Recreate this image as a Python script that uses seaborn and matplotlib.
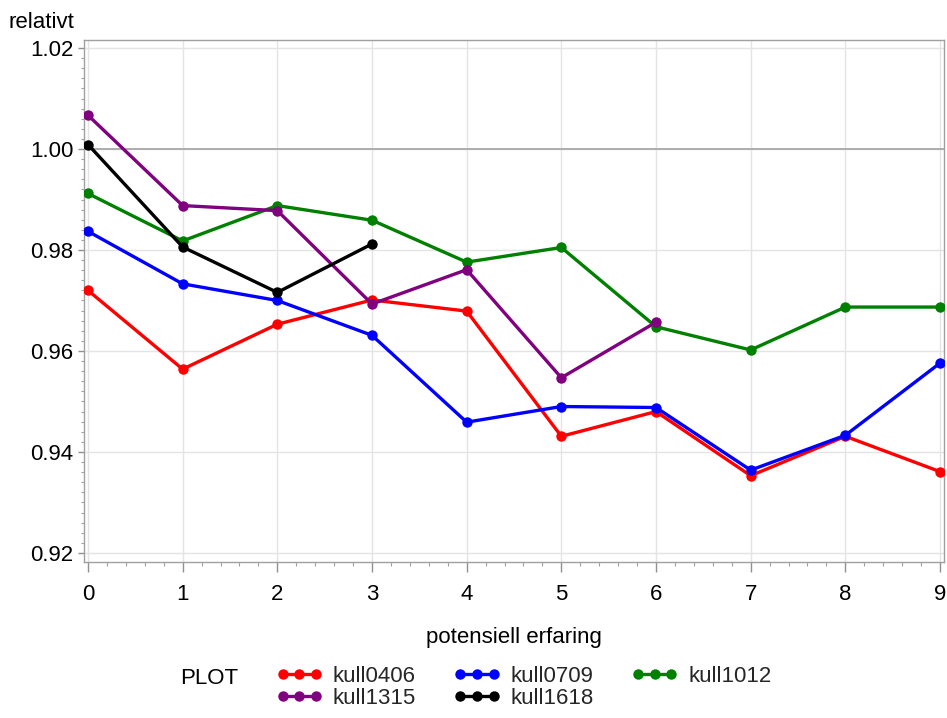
import matplotlib
matplotlib.use("Agg")
import matplotlib.pyplot as plt
from matplotlib.lines import Line2D
from matplotlib.ticker import MultipleLocator, FormatStrFormatter
import seaborn as sns
import pandas as pd

# Relative earnings by potential experience, one series per cohort
erfaring = [0, 1, 2, 3, 4, 5, 6, 7, 8, 9]
kull0406 = [0.9720, 0.9564, 0.9653, 0.9701, 0.9679, 0.9431, 0.9480, 0.9353, 0.9431, 0.9361]
kull0709 = [0.9837, 0.9733, 0.9700, 0.9631, 0.9459, 0.9490, 0.9488, 0.9364, 0.9433, 0.9576]
kull1012 = [0.9912, 0.9818, 0.9888, 0.9859, 0.9776, 0.9805, 0.9648, 0.9602, 0.9687, 0.9687]
kull1315 = [1.0067, 0.9888, 0.9878, 0.9693, 0.9761, 0.9547, 0.9657]
kull1618 = [1.0009, 0.9806, 0.9716, 0.9812]

series = {
    "kull0406": kull0406,
    "kull0709": kull0709,
    "kull1012": kull1012,
    "kull1315": kull1315,
    "kull1618": kull1618,
}
colors = {
    "kull0406": "#ff0000",
    "kull0709": "#0000ff",
    "kull1012": "#008000",
    "kull1315": "#800080",
    "kull1618": "#000000",
}

rows = []
for name, vals in series.items():
    for x, v in zip(erfaring, vals):
        rows.append({"erfaring": x, "relativt": v, "kull": name})
df = pd.DataFrame(rows)

sns.set_theme(style="white")
plt.rcParams["font.family"] = ["Liberation Sans", "DejaVu Sans"]

LW = 2.4
MS = 7.5

fig = plt.figure(figsize=(9.47, 7.18), dpi=100)
ax = fig.add_axes([84 / 947, 1 - 562 / 718, (944 - 84) / 947, (562 - 40) / 718])

# grid and reference line
ax.set_axisbelow(True)
ax.grid(True, which="major", color="#e4e4e4", linewidth=1.0)
ax.axhline(1.0, color="#a8a8a8", linewidth=1.3, zorder=1)

sns.lineplot(
    data=df, x="erfaring", y="relativt", hue="kull",
    hue_order=list(series.keys()), palette=colors,
    marker="o", markersize=MS, markeredgewidth=0,
    linewidth=LW, legend=False, ax=ax, zorder=3,
)

ax.set_xlim(-0.042, 9.042)
ax.set_ylim(0.9182, 1.0216)
ax.xaxis.set_major_locator(MultipleLocator(1))
ax.xaxis.set_minor_locator(MultipleLocator(0.2))
ax.yaxis.set_major_locator(MultipleLocator(0.02))
ax.yaxis.set_minor_locator(MultipleLocator(0.002))
ax.yaxis.set_major_formatter(FormatStrFormatter("%.2f"))

for s in ax.spines.values():
    s.set_color("#a0a0a0")
    s.set_linewidth(1.0)

ax.tick_params(axis="x", which="major", direction="out", length=7, width=1,
               color="#909090", labelsize=16, pad=9, labelcolor="black", bottom=True)
ax.tick_params(axis="x", which="minor", direction="out", length=3, width=0.8,
               color="#a0a0a0", bottom=True)
ax.tick_params(axis="y", which="major", direction="out", length=4.5, width=1,
               color="#909090", labelsize=16, pad=3, labelcolor="black", left=True)
ax.tick_params(axis="y", which="minor", direction="out", length=2.5, width=0.8,
               color="#a0a0a0", left=True)

ax.set_xlabel("")
ax.set_ylabel("")
fig.text(514 / 947, 1 - 637 / 718, "potensiell erfaring", ha="center", va="center",
         fontsize=16, color="black")
fig.text(9 / 947, 1 - 23 / 718, "relativt", ha="left", va="center",
         fontsize=16, color="black")

# legend laid out row-wise in three columns
fig.text(180 / 947, 1 - 679 / 718, "PLOT", ha="left", va="center",
         fontsize=16, color="black")
order = ["kull0406", "kull1315", "kull0709", "kull1618", "kull1012"]
handles = [Line2D([0], [0], color=colors[k], linewidth=LW, marker="o",
                  markersize=MS, markeredgewidth=0) for k in order]
fig.legend(handles, order, loc="upper left",
           bbox_to_anchor=(276 / 947, 1 - 666 / 718),
           ncol=3, frameon=False, fontsize=16, numpoints=3,
           handlelength=2.1, handletextpad=0.45, columnspacing=1.7,
           labelspacing=0.05, borderpad=0, borderaxespad=0)

fig.savefig("out.png", dpi=100, facecolor="white")
